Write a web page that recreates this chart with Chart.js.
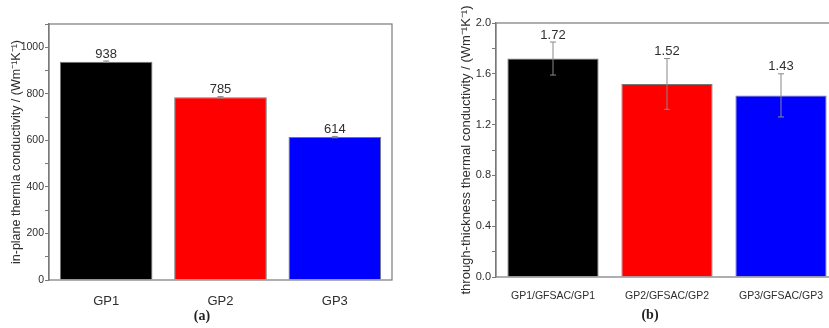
<!DOCTYPE html>
<html>
<head>
<meta charset="utf-8">
<script src="https://cdn.jsdelivr.net/npm/chart.js@4.4.1/dist/chart.umd.min.js"></script>
<style>
  html, body { margin: 0; padding: 0; background: #fff; overflow: hidden; width: 829px; height: 328px; }
  #chartA { position: absolute; left: 0; top: 0; }
  #chartB { position: absolute; left: 420px; top: 0; }
</style>
</head>
<body>
<canvas id="chartA" width="420" height="328"></canvas>
<canvas id="chartB" width="440" height="328"></canvas>
<script>
// data
const groupsA = ['GP1', 'GP2', 'GP3'];
const valuesA = [938, 785, 614];
const errorsA = [3, 3, 3];
const yLabelsA = [0, 200, 400, 600, 800, 1000];

const groupsB = ['GP1/GFSAC/GP1', 'GP2/GFSAC/GP2', 'GP3/GFSAC/GP3'];
const valuesB = [1.72, 1.52, 1.43];
const errorsB = [0.13, 0.2, 0.17];
const yLabelsB = [0, 0.4, 0.8, 1.2, 1.6, 2.0];

const barColors = ['#000000', '#ff0000', '#0000ff'];

const AXIS = '#7a7a7a';
const TEXT = '#2e2e2e';
Chart.defaults.font.family = "'Liberation Sans', Arial, sans-serif";
Chart.defaults.color = TEXT;

// frame, error bars, value labels and panel caption
const decorPlugin = {
  id: 'decor',
  afterDatasetsDraw(chart, args, opts) {
    const { ctx, chartArea: a } = chart;
    const y = chart.scales.y;
    const meta = chart.getDatasetMeta(0);
    ctx.save();
    ctx.strokeStyle = AXIS;
    ctx.lineWidth = 1.2;
    ctx.strokeRect(a.left, a.top, a.right - a.left, a.bottom - a.top);

    meta.data.forEach((bar, i) => {
      const v = opts.values[i], e = opts.errors[i];
      const top = y.getPixelForValue(v + e);
      const bot = y.getPixelForValue(v - e);
      ctx.strokeStyle = '#888';
      ctx.lineWidth = 1;
      ctx.beginPath();
      ctx.moveTo(bar.x, top); ctx.lineTo(bar.x, bot);
      ctx.moveTo(bar.x - 3, top); ctx.lineTo(bar.x + 3, top);
      ctx.moveTo(bar.x - 3, bot); ctx.lineTo(bar.x + 3, bot);
      ctx.stroke();

      ctx.fillStyle = TEXT;
      ctx.font = "13px 'Liberation Sans', Arial, sans-serif";
      ctx.textAlign = 'center';
      ctx.textBaseline = 'middle';
      ctx.fillText(opts.format(v), bar.x, top - 7);
    });

    ctx.fillStyle = '#222';
    ctx.font = "bold 14px 'Liberation Serif', 'Times New Roman', serif";
    ctx.textAlign = 'center';
    ctx.textBaseline = 'middle';
    ctx.fillText(opts.caption, opts.captionX, opts.captionY);
    ctx.restore();
  }
};

function makeChart(id, cfg) {
  return new Chart(document.getElementById(id), {
    type: 'bar',
    data: {
      labels: cfg.labels,
      datasets: [{
        data: cfg.values,
        backgroundColor: barColors,
        borderColor: '#777',
        borderWidth: 1,
        barPercentage: cfg.barPct,
        categoryPercentage: 1
      }]
    },
    options: {
      responsive: false,
      animation: false,
      layout: { padding: { top: cfg.padTop, right: cfg.padRight, left: 0, bottom: 0 } },
      plugins: {
        legend: { display: false },
        tooltip: { enabled: false },
        decor: {
          values: cfg.values, errors: cfg.errors, format: cfg.format,
          caption: cfg.caption, captionX: cfg.captionX, captionY: cfg.captionY
        }
      },
      scales: {
        x: {
          grid: { display: false },
          border: { display: false },
          ticks: { font: { size: cfg.xFont }, color: TEXT, padding: cfg.xPad, maxRotation: 0, autoSkip: false },
          afterFit: s => { s.height = cfg.xHeight; }
        },
        y: {
          min: 0,
          max: cfg.max,
          border: { color: AXIS, width: 1.2 },
          grid: { drawOnChartArea: false, tickLength: 4, color: AXIS },
          ticks: {
            stepSize: cfg.step,
            autoSkip: false,
            padding: 1,
            font: { size: cfg.yFont },
            color: TEXT,
            callback: v => cfg.yLabels.some(t => Math.abs(t - v) < 1e-6) ? cfg.yFormat(v) : ''
          },
          title: {
            display: true,
            text: cfg.title,
            font: { size: cfg.titleFont },
            color: TEXT,
            padding: { top: cfg.titlePad, bottom: 0 }
          },
          afterFit: s => { s.width = cfg.yWidth; }
        }
      }
    },
    plugins: [decorPlugin]
  });
}

makeChart('chartA', {
  labels: groupsA, values: valuesA, errors: errorsA, yLabels: yLabelsA,
  max: 1100, step: 100, yFormat: v => String(v), format: v => String(v),
  title: 'in-plane thermla conductivity / (Wm\u207B\u00B9K\u207B\u00B9)',
  titleFont: 12.5, titlePad: 9, yWidth: 49, yFont: 10.5,
  xFont: 13, xPad: 6, xHeight: 48,
  padTop: 24, padRight: 28, barPct: 0.81,
  caption: '(a)', captionX: 202, captionY: 316
});

makeChart('chartB', {
  labels: groupsB, values: valuesB, errors: errorsB, yLabels: yLabelsB,
  max: 2.0, step: 0.2, yFormat: v => v.toFixed(1), format: v => v.toFixed(2),
  title: 'through-thickness thermal conductivity / (Wm\u207B\u00B9K\u207B\u00B9)',
  titleFont: 13, titlePad: 39, yWidth: 76, yFont: 11,
  xFont: 10.5, xPad: 5, xHeight: 51,
  padTop: 23, padRight: 22, barPct: 0.8,
  caption: '(b)', captionX: 230, captionY: 315
});
</script>
</body>
</html>
